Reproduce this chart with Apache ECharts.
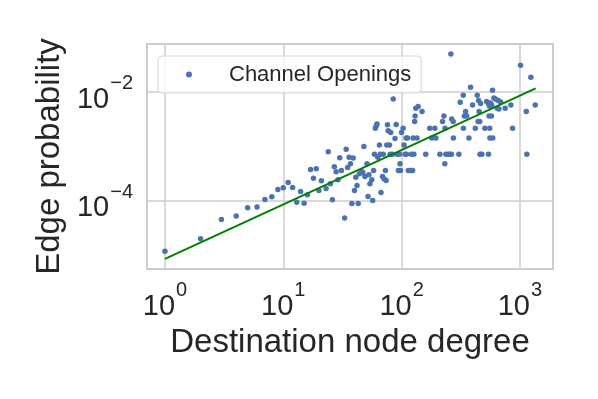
<!DOCTYPE html>
<html><head><meta charset="utf-8">
<script src="https://cdn.jsdelivr.net/npm/echarts@6/dist/echarts.min.js"></script>
<style>html,body{margin:0;padding:0;background:#fff}#c{width:598px;height:399px}</style>
</head><body><div id="c"></div>
<script>
const degrees = [1,2,3,4,5,6,7,8,9,10,11,12,13,14,15,16,17,18,19,20,21,23,24,25,26,27,28,29,30,31,33,34,35,36,37,38,39,40,41,42,43,44,46,47,48,49,51,52,53,54,56,57,58,59,60,61,62,63,65,66,67,69,70,71,73,74,75,76,77,79,80,81,84,85,88,90,92,94,96,97,98,100,103,105,107,109,110,112,114,118,121,122,124,125,127,129,130,132,135,138,149,160,173,180,191,195,211,222,228,232,233,237,248,256,261,264,265,273,274,305,313,332,333,339,348,355,371,383,398,420,436,443,448,452,458,460,465,477,506,524,540,543,549,552,556,558,565,575,578,587,590,603,626,643,656,664,687,751,839,867,1013,1132,1145,1238,1348];
const probabilities = [1.16e-5,1.98e-5,4.48e-5,5.16e-5,7.33e-5,7.55e-5,1.04e-4,1.17e-4,1.59e-4,1.71e-4,2.14e-4,1.73e-4,9.3e-5,1.46e-4,8.9e-5,1.27e-4,3.71e-4,2.57e-4,3.81e-4,1.53e-4,2.30e-4,1.66e-4,7.82e-4,2.02e-4,1.03e-4,4.15e-4,3.36e-4,2.39e-4,6.1e-4,3.55e-4,4.74e-5,8.75e-4,4.03e-4,6.24e-4,4.71e-4,8.8e-5,6.0e-4,1.53e-4,2.68e-4,1.89e-4,8.8e-5,3.08e-4,3.40e-4,3.26e-4,9.8e-4,2.76e-4,4.71e-4,1.18e-4,2.96e-4,2.02e-4,2.39e-4,1.0e-4,3.55e-4,7.08e-4,2.12e-3,2.34e-3,2.55e-3,6.24e-4,1.05e-3,7.08e-4,1.40e-4,2.76e-4,7.08e-4,2.50e-4,3.55e-4,2.33e-4,1.05e-3,2.45e-3,1.90e-3,1.05e-3,7.08e-4,1.77e-3,7.08e-4,7.33e-3,1.38e-3,2.48e-3,7.08e-4,3.55e-4,7.08e-4,4.71e-4,3.55e-4,1.77e-3,2.12e-3,1.05e-3,7.08e-4,1.41e-3,7.08e-4,1.41e-3,3.55e-4,3.55e-4,7.08e-4,3.55e-4,3.55e-4,1.41e-3,7.08e-4,2.82e-3,3.58e-3,4.95e-3,1.41e-3,5.31e-3,4.29e-3,7.08e-4,2.12e-3,1.41e-3,2.12e-3,1.41e-3,7.08e-4,2.82e-3,3.58e-3,4.71e-4,2.12e-3,7.08e-4,7.08e-4,7.08e-4,0.0491,7.08e-4,3.15e-3,2.82e-3,1.41e-3,7.08e-4,6.37e-3,8.57e-3,2.12e-3,3.58e-3,4.29e-3,3.58e-3,1.41e-3,0.0120,5.69e-3,2.12e-3,8.57e-3,2.82e-3,6.84e-3,4.29e-3,2.82e-3,7.08e-4,6.04e-3,7.08e-4,2.12e-3,6.56e-3,6.11e-3,7.08e-4,3.58e-3,5.46e-3,2.12e-3,1.41e-3,6.20e-3,3.58e-3,5.69e-3,0.0106,1.41e-3,7.65e-3,7.23e-3,4.95e-3,6.84e-3,4.80e-3,6.46e-3,4.95e-3,5.69e-3,2.12e-3,0.0304,4.29e-3,7.08e-4,0.0183,5.69e-3];
const fitDegrees = [1, 1360];
const fitProbabilities = [8.41e-6, 0.0115];
const seriesName = 'Channel Openings';
const xTitle = 'Destination node degree';
const yTitle = 'Edge probability';

const FONT = '"Liberation Sans", Arial, sans-serif';
const TXT = '#262626';
function sup(v) {
  const l = Math.log10(v);
  const e = Math.round(l);
  if (Math.abs(l - e) > 1e-6) return '';
  return '{b|10}{s|' + (e < 0 ? '\u2212' + (-e) : e) + '}';
}
const rich = {
  b: {fontSize: 29, fontFamily: FONT, color: TXT, padding: [16, 0, 0, 0]},
  s: {fontSize: 20, fontFamily: FONT, color: TXT, padding: [0, 0, 16, 1]}
};
const chart = echarts.init(document.getElementById('c'), null, {renderer: 'canvas'});
chart.setOption({
  animation: false,
  backgroundColor: '#ffffff',
  grid: {left: 147, right: 45, top: 44, bottom: 130, show: true, borderColor: '#cccccc', borderWidth: 2, backgroundColor: '#ffffff'},
  legend: {
    data: [seriesName], left: 158, top: 56, orient: 'horizontal',
    icon: 'circle', itemWidth: 6, itemHeight: 6,
    padding: [6, 10, 6, 28],
    backgroundColor: 'rgba(255,255,255,0.8)', borderColor: '#d5d5d5', borderWidth: 1, borderRadius: 4,
    formatter: function (name) { return '{g| }{t|' + name + '}'; },
    textStyle: {
      fontSize: 22, fontFamily: FONT, color: TXT, lineHeight: 25,
      rich: {
        g: {width: 32, fontSize: 22},
        t: {fontSize: 22, fontFamily: FONT, color: TXT, lineHeight: 25}
      }
    }
  },
  xAxis: {
    type: 'log', logBase: 10, min: 0.705, max: 1905,
    name: xTitle, nameLocation: 'middle', nameGap: 57,
    nameTextStyle: {fontSize: 33, fontFamily: FONT, color: TXT},
    axisLine: {show: false}, axisTick: {show: false},
    splitLine: {show: true, lineStyle: {color: '#cccccc', width: 1.5}},
    axisLabel: {formatter: sup, rich: rich, margin: 7}
  },
  yAxis: {
    type: 'log', logBase: 100, min: 5.5e-6, max: 0.075,
    name: yTitle, nameLocation: 'middle', nameGap: 77, nameRotate: 90,
    nameTextStyle: {fontSize: 33, fontFamily: FONT, color: TXT},
    axisLine: {show: false}, axisTick: {show: false},
    splitLine: {show: true, lineStyle: {color: '#cccccc', width: 1.5}},
    axisLabel: {formatter: sup, rich: rich, margin: 14}
  },
  series: [
    {
      name: seriesName, type: 'scatter', symbol: 'circle', symbolSize: 5.5,
      itemStyle: {color: '#4c72b0', opacity: 1},
      data: degrees.map((d, i) => [d, probabilities[i]]),
      z: 2
    },
    {
      name: 'fit', type: 'line', symbol: 'none', silent: true,
      lineStyle: {color: '#008000', width: 2},
      data: fitDegrees.map((d, i) => [d, fitProbabilities[i]]),
      z: 3
    }
  ]
});
</script></body></html>
